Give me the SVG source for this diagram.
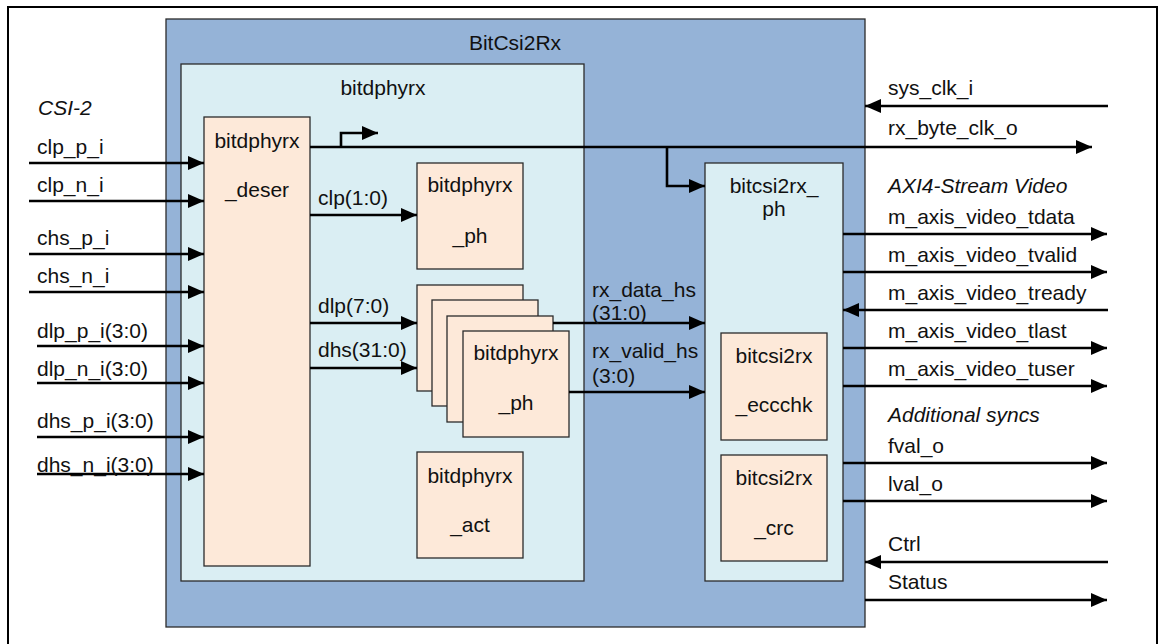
<svg xmlns="http://www.w3.org/2000/svg" width="1164" height="644" viewBox="0 0 1164 644">
<style>
text{font-family:"Liberation Sans",Arial,sans-serif;font-size:21px;fill:#111}
.it{font-style:italic}
.c{text-anchor:middle}
.blk{stroke:#2b2b2b;stroke-width:1.3}
.dark{fill:#95B3D7}
.lite{fill:#DAEEF3}
.peach{fill:#FDE9D9}
.w{fill:none;stroke:#000;stroke-width:2.6;marker-end:url(#ah)}
.p{fill:none;stroke:#000;stroke-width:2.6}
</style>
<defs>
<marker id="ah" markerUnits="userSpaceOnUse" markerWidth="16" markerHeight="14" refX="16" refY="7" orient="auto">
<path d="M0,0 L16,7 L0,14 z" fill="#000"/>
</marker>
</defs>
<rect x="0" y="0" width="1164" height="644" fill="#fff"/>
<rect x="8" y="7" width="1149" height="640" fill="none" stroke="#000" stroke-width="2"/>
<g id="BitCsi2Rx">
<rect class="blk dark" x="166" y="19" width="699" height="608"/>
<text class="c" x="515" y="50">BitCsi2Rx</text>
</g>
<g id="bitdphyrx">
<rect class="blk lite" x="181" y="64" width="403" height="517"/>
<text class="c" x="383" y="95">bitdphyrx</text>
</g>
<g id="bitdphyrx_deser">
<rect class="blk peach" x="204" y="117" width="106" height="449"/>
<text class="c" x="257" y="148">bitdphyrx</text>
<text class="c" x="257" y="197">_deser</text>
</g>
<g id="bitdphyrx_ph_clk">
<rect class="blk peach" x="417" y="163" width="106" height="106"/>
<text class="c" x="470" y="192">bitdphyrx</text>
<text class="c" x="470" y="243">_ph</text>
</g>
<g id="bitdphyrx_ph_data">
<rect class="blk peach" x="417" y="285" width="106" height="106"/>
<rect class="blk peach" x="432" y="300" width="106" height="106"/>
<rect class="blk peach" x="447" y="316" width="106" height="106"/>
<rect class="blk peach" x="463" y="331" width="106" height="106"/>
<text class="c" x="516" y="360">bitdphyrx</text>
<text class="c" x="516" y="410">_ph</text>
</g>
<g id="bitdphyrx_act">
<rect class="blk peach" x="417" y="452" width="106" height="106"/>
<text class="c" x="470" y="483">bitdphyrx</text>
<text class="c" x="470" y="532">_act</text>
</g>
<g id="bitcsi2rx_ph">
<rect class="blk lite" x="705" y="163" width="138" height="418"/>
<text class="c" x="774" y="193">bitcsi2rx_</text>
<text class="c" x="774" y="216">ph</text>
</g>
<g id="bitcsi2rx_eccchk">
<rect class="blk peach" x="721" y="333" width="106" height="107"/>
<text class="c" x="774" y="363">bitcsi2rx</text>
<text class="c" x="774" y="412">_eccchk</text>
</g>
<g id="bitcsi2rx_crc">
<rect class="blk peach" x="721" y="455" width="106" height="106"/>
<text class="c" x="774" y="485">bitcsi2rx</text>
<text class="c" x="774" y="535">_crc</text>
</g>
<g id="connectors">
<line class="w" x1="29" y1="163" x2="204" y2="163"/>
<line class="w" x1="29" y1="201" x2="204" y2="201"/>
<line class="w" x1="29" y1="254" x2="204" y2="254"/>
<line class="w" x1="29" y1="292" x2="204" y2="292"/>
<line class="w" x1="37" y1="346" x2="204" y2="346"/>
<line class="w" x1="37" y1="383" x2="204" y2="383"/>
<line class="w" x1="37" y1="437" x2="204" y2="437"/>
<line class="w" x1="37" y1="474" x2="204" y2="474"/>
<line class="w" x1="310" y1="147" x2="1092" y2="147"/>
<polyline class="w" points="341,147 341,133 378,133"/>
<polyline class="w" points="667,147 667,186 705,186"/>
<line class="w" x1="310" y1="215" x2="417" y2="215"/>
<line class="w" x1="310" y1="323" x2="417" y2="323"/>
<line class="w" x1="310" y1="368" x2="417" y2="368"/>
<line class="w" x1="553" y1="323" x2="705" y2="323"/>
<line class="w" x1="569" y1="392" x2="705" y2="392"/>
<line class="w" x1="1108" y1="106" x2="865" y2="106"/>
<line class="w" x1="843" y1="234" x2="1107" y2="234"/>
<line class="w" x1="843" y1="272" x2="1107" y2="272"/>
<line class="w" x1="1108" y1="310" x2="843" y2="310"/>
<line class="w" x1="843" y1="348" x2="1107" y2="348"/>
<line class="w" x1="843" y1="386" x2="1107" y2="386"/>
<line class="w" x1="843" y1="463" x2="1107" y2="463"/>
<line class="w" x1="843" y1="501" x2="1107" y2="501"/>
<line class="w" x1="1108" y1="562" x2="865" y2="562"/>
<line class="w" x1="865" y1="600" x2="1107" y2="600"/>
</g>
<g id="labels">
<text class="it" x="38" y="115">CSI-2</text>
<text x="37" y="154">clp_p_i</text>
<text x="37" y="192">clp_n_i</text>
<text x="37" y="245">chs_p_i</text>
<text x="37" y="283">chs_n_i</text>
<text x="37" y="338">dlp_p_i(3:0)</text>
<text x="37" y="376">dlp_n_i(3:0)</text>
<text x="37" y="428">dhs_p_i(3:0)</text>
<text x="37" y="472">dhs_n_i(3:0)</text>
<text x="318" y="205">clp(1:0)</text>
<text x="318" y="313">dlp(7:0)</text>
<text x="318" y="357">dhs(31:0)</text>
<text x="592" y="297">rx_data_hs</text>
<text x="592" y="320">(31:0)</text>
<text x="592" y="358">rx_valid_hs</text>
<text x="592" y="383">(3:0)</text>
<text x="888" y="95">sys_clk_i</text>
<text x="888" y="135">rx_byte_clk_o</text>
<text class="it" x="888" y="193">AXI4-Stream Video</text>
<text x="888" y="224">m_axis_video_tdata</text>
<text x="888" y="262">m_axis_video_tvalid</text>
<text x="888" y="300">m_axis_video_tready</text>
<text x="888" y="338">m_axis_video_tlast</text>
<text x="888" y="376">m_axis_video_tuser</text>
<text class="it" x="888" y="422">Additional syncs</text>
<text x="888" y="453">fval_o</text>
<text x="888" y="491">lval_o</text>
<text x="888" y="551">Ctrl</text>
<text x="888" y="589">Status</text>
</g>
</svg>
